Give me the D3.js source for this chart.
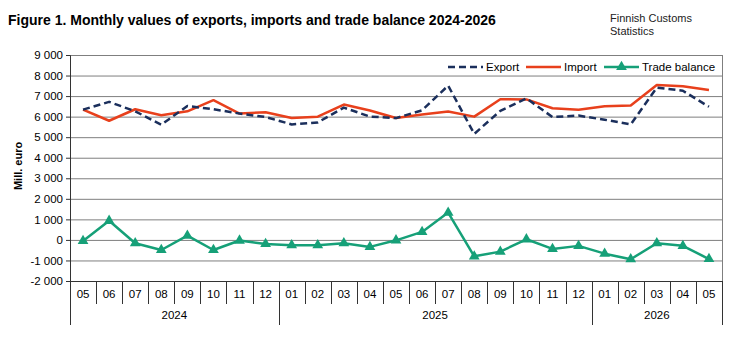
<!DOCTYPE html>
<html lang='en'>
<head>
  <meta charset='UTF-8'>
  <title>Figure 1</title>
  <script src='https://d3js.org/d3.v7.min.js'></script>
  <style>
    body { margin: 0; background: #fff; }
    svg { display: block; font-family: 'Liberation Sans', Arial, sans-serif; }
  </style>
</head>
<body>
  <svg width='756' height='340'></svg>

  <script>
    // data
    var months = ['05','06','07','08','09','10','11','12',
                  '01','02','03','04','05','06','07','08','09','10','11','12',
                  '01','02','03','04','05'];
    var years = [{label: '2024', n: 8}, {label: '2025', n: 12}, {label: '2026', n: 5}];
    var exportVals = [6340, 6720, 6260, 5610, 6520, 6360, 6150, 5980,
                      5620, 5720, 6440, 6000, 5930, 6310, 7510, 5160, 6280, 6890, 5980, 6050,
                      5850, 5620, 7410, 7260, 6480];
    var importVals = [6340, 5800, 6360, 6070, 6260, 6800, 6150, 6210,
                      5935, 6000, 6590, 6300, 5935, 6100, 6250, 6000, 6850, 6840, 6410, 6340,
                      6510, 6540, 7540, 7480, 7300];
    var balanceVals = [-50, 930, -160, -490, 210, -490, -30, -200,
                       -260, -260, -160, -340, -20, 390, 1330, -800, -570, 30, -440, -290,
                       -670, -940, -160, -290, -930];
    var yTicks = d3.range(-2000, 9001, 1000);

    var svg = d3.select('svg'),
      margin = {top: 55, right: 34, bottom: 59, left: 70},
      width = +svg.attr('width') - margin.left - margin.right,
      height = +svg.attr('height') - margin.top - margin.bottom,
      g = svg.append('g').attr('transform', 'translate(' + margin.left + ',' + margin.top + ')');

    var idx = months.map((m, i) => i);
    var x = d3.scaleBand().domain(idx).range([0, width]);
    var y = d3.scaleLinear().domain([-2000, 9000]).range([height, 0]);
    var fmt = d3.formatLocale({decimal: ',', thousands: '\u00a0', grouping: [3], currency: ['', ''], minus: '-'}).format(',d');

    // titles
    svg.append('text').attr('x', 8).attr('y', 25)
      .attr('font-size', 14).attr('font-weight', 'bold').attr('fill', '#000')
      .text('Figure 1. Monthly values of exports, imports and trade balance 2024-2026');
    svg.append('text').attr('x', 610).attr('y', 22).attr('font-size', 11).attr('fill', '#222')
      .text('Finnish Customs');
    svg.append('text').attr('x', 610).attr('y', 35).attr('font-size', 11).attr('fill', '#222')
      .text('Statistics');

    // grid
    g.append('g').selectAll('line').data(yTicks).enter().append('line')
      .attr('x1', 0).attr('x2', width)
      .attr('y1', d => y(d) + 0.5).attr('y2', d => y(d) + 0.5)
      .attr('stroke', '#7f7f7f').attr('stroke-width', 1);
    g.append('line').attr('x1', width + 0.5).attr('x2', width + 0.5)
      .attr('y1', 0).attr('y2', height).attr('stroke', '#7f7f7f');

    // y axis
    var yAxis = g.append('g')
      .call(d3.axisLeft(y).tickValues(yTicks).tickFormat(fmt).tickSize(4).tickPadding(3));
    yAxis.select('.domain').attr('stroke', '#333');
    yAxis.selectAll('line').attr('stroke', '#333');
    yAxis.selectAll('text').attr('font-size', 11.5).attr('fill', '#000')
      .attr('font-family', "'Liberation Sans', Arial, sans-serif");
    svg.append('text')
      .attr('transform', 'translate(22,' + (margin.top + y(3600)) + ') rotate(-90)')
      .attr('text-anchor', 'middle').attr('font-size', 11).attr('font-weight', 'bold')
      .text('Mill. euro');

    // x axis: months and years
    var xg = g.append('g').attr('transform', 'translate(0,' + height + ')');
    xg.append('line').attr('x1', 0).attr('x2', width).attr('y1', 0.5).attr('y2', 0.5).attr('stroke', '#333');
    xg.selectAll('.mdiv').data(idx.slice(1)).enter().append('line')
      .attr('x1', d => Math.round(x(d)) + 0.5).attr('x2', d => Math.round(x(d)) + 0.5)
      .attr('y1', 0).attr('y2', 23).attr('stroke', '#333');
    xg.selectAll('.mlab').data(idx).enter().append('text')
      .attr('x', d => x(d) + x.bandwidth() / 2).attr('y', 17)
      .attr('text-anchor', 'middle').attr('font-size', 11.5).text(d => months[d]);
    var start = 0, bounds = [0];
    years.forEach(yr => { yr.start = start; start += yr.n; bounds.push(start); });
    xg.selectAll('.ydiv').data(bounds).enter().append('line')
      .attr('x1', d => (d < months.length ? Math.round(x(d)) : width) + 0.5)
      .attr('x2', d => (d < months.length ? Math.round(x(d)) : width) + 0.5)
      .attr('y1', 0).attr('y2', 44).attr('stroke', '#333');
    xg.selectAll('.ylab').data(years).enter().append('text')
      .attr('x', d => (x(d.start) + (d.start + d.n < months.length ? x(d.start + d.n) : width)) / 2)
      .attr('y', 38).attr('text-anchor', 'middle').attr('font-size', 11.5).text(d => d.label);

    // lines
    var cx = i => x(i) + x.bandwidth() / 2;
    var line = vals => d3.line().x((d, i) => cx(i)).y(d => y(d))(vals);
    g.append('path').attr('d', line(importVals))
      .attr('fill', 'none').attr('stroke', '#e8401c').attr('stroke-width', 2.5).attr('stroke-linejoin', 'round');
    g.append('path').attr('d', line(exportVals))
      .attr('fill', 'none').attr('stroke', '#1b2f5c').attr('stroke-width', 2.5)
      .attr('stroke-dasharray', '7,4').attr('stroke-linejoin', 'round');
    g.append('path').attr('d', line(balanceVals))
      .attr('fill', 'none').attr('stroke', '#16a078').attr('stroke-width', 2.5).attr('stroke-linejoin', 'round');
    var tri = d3.symbol().type(d3.symbolTriangle).size(50);
    g.selectAll('.mk').data(balanceVals).enter().append('path')
      .attr('d', tri).attr('fill', '#16a078')
      .attr('transform', (d, i) => 'translate(' + cx(i) + ',' + y(d) + ')');

    // legend
    var lg = svg.append('g').attr('transform', 'translate(0,67)');
    var items = [
      {label: 'Export', x: 448, color: '#1b2f5c', dash: '7,4'},
      {label: 'Import', x: 526, color: '#e8401c', dash: null},
      {label: 'Trade balance', x: 604, color: '#16a078', dash: null, marker: true}
    ];
    items.forEach(it => {
      lg.append('line').attr('x1', it.x).attr('x2', it.x + 35).attr('y1', 0).attr('y2', 0)
        .attr('stroke', it.color).attr('stroke-width', 2.5).attr('stroke-dasharray', it.dash);
      if (it.marker) lg.append('path').attr('d', tri).attr('fill', it.color)
        .attr('transform', 'translate(' + (it.x + 17.5) + ',0)');
      lg.append('text').attr('x', it.x + 38).attr('y', 4).attr('font-size', 11.5).text(it.label);
    });
  </script>
</body>
</html>
